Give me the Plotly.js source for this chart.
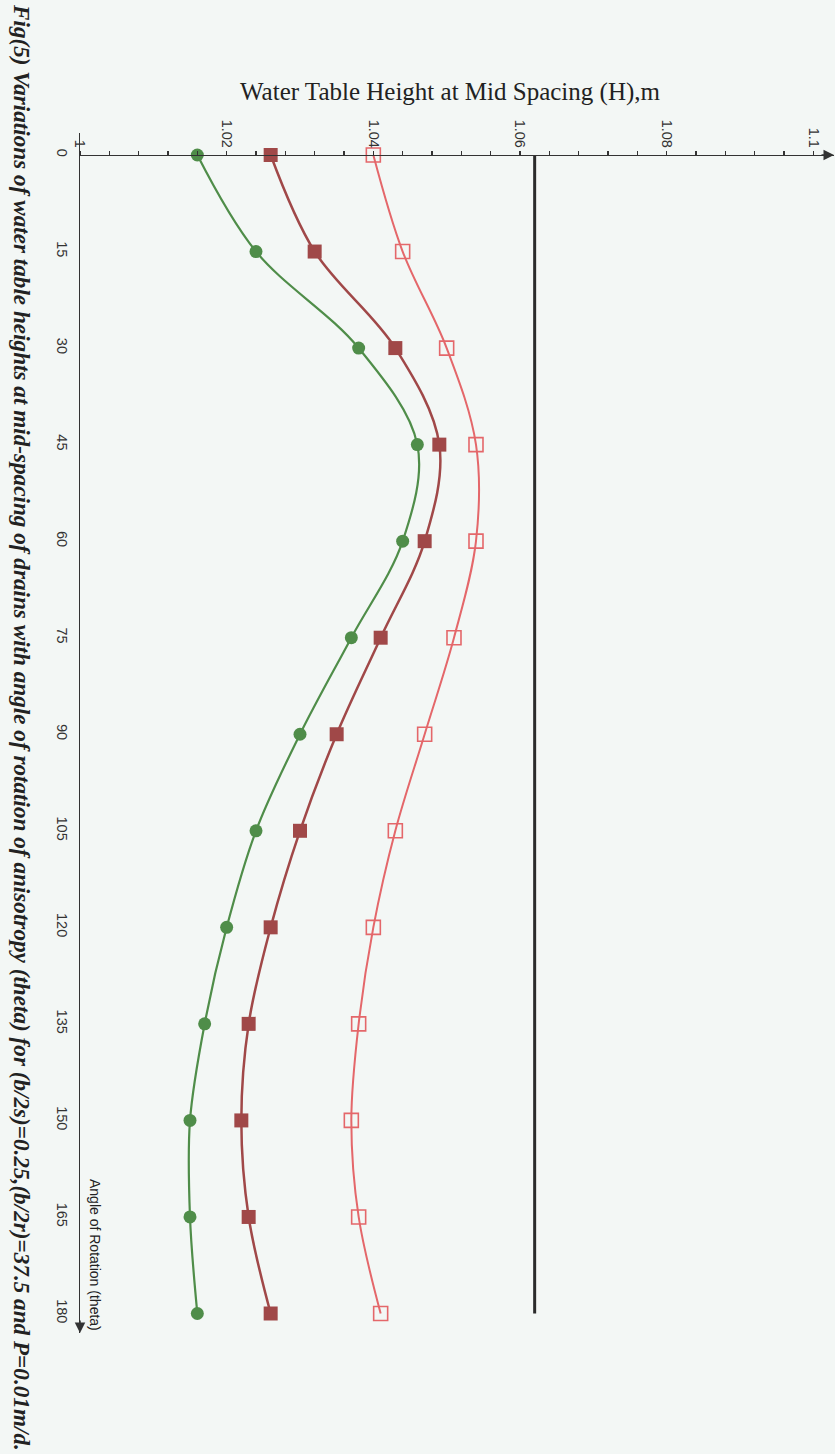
<!DOCTYPE html>
<html>
<head>
<meta charset="utf-8">
<script src="https://cdn.plot.ly/plotly-3.0.1.min.js"></script>
<style>
  html, body { margin: 0; padding: 0; background: #f3f7f5; }
  #chart { width: 835px; height: 1454px; }
</style>
</head>
<body>
<div id="chart"></div>
<script>
// Angle of rotation of anisotropy (theta), degrees
const theta = [0, 15, 30, 45, 60, 75, 90, 105, 120, 135, 150, 165, 180];
// Water table height at mid spacing H (m) for three cases
const hGreen   = [1.016, 1.024, 1.038, 1.046, 1.044, 1.037, 1.030, 1.024, 1.020, 1.017, 1.015, 1.015, 1.016];
const hDarkRed = [1.026, 1.032, 1.043, 1.049, 1.047, 1.041, 1.035, 1.030, 1.026, 1.023, 1.022, 1.023, 1.026];
const hOpenRed = [1.040, 1.044, 1.050, 1.054, 1.054, 1.051, 1.047, 1.043, 1.040, 1.038, 1.037, 1.038, 1.041];
// Reference (vertical black) line
const refH = [1.062, 1.062];
const refTheta = [0, 180];
// Tick labels
const hTickVals = [1, 1.02, 1.04, 1.06, 1.08, 1.1];
const hTickText = ['1', '1.02', '1.04', '1.06', '1.08', '1.1'];
const thetaTickVals = [0, 15, 30, 45, 60, 75, 90, 105, 120, 135, 150, 165, 180];
const thetaTickText = ['0', '15', '30', '45', '60', '75', '90', '105', '120', '135', '150', '165', '180'];

const xRange = [1.0, 1.10282];
const yRange = [183.03, -3.418];
const axisPos = (yRange[0] - 0) / (yRange[0] - yRange[1]);

const tickFont = { family: 'Liberation Sans, Arial, sans-serif', size: 14.5, color: '#333333' };

const traces = [
  { x: refH, y: refTheta, type: 'scatter', mode: 'lines',
    line: { color: '#2b2b2b', width: 3 }, hoverinfo: 'skip', showlegend: false },
  { x: hOpenRed, y: theta, type: 'scatter', mode: 'lines+markers',
    line: { color: '#e4676a', width: 2, shape: 'spline', smoothing: 1 },
    marker: { symbol: 'square-open', size: 14, color: '#e4676a', line: { width: 1.6, color: '#e4676a' } },
    showlegend: false },
  { x: hDarkRed, y: theta, type: 'scatter', mode: 'lines+markers',
    line: { color: '#a04848', width: 2.5, shape: 'spline', smoothing: 1 },
    marker: { symbol: 'square', size: 14, color: '#a04848' },
    showlegend: false },
  { x: hGreen, y: theta, type: 'scatter', mode: 'lines+markers',
    line: { color: '#4f8d49', width: 2.2, shape: 'spline', smoothing: 1 },
    marker: { symbol: 'circle', size: 13, color: '#4f8d49' },
    showlegend: false }
];

const layout = {
  width: 835, height: 1454,
  margin: { l: 80, r: 1, t: 133, b: 121 },
  paper_bgcolor: '#f3f7f5', plot_bgcolor: '#f3f7f5',
  showlegend: false,
  xaxis: {
    range: xRange, anchor: 'free', position: axisPos, side: 'top',
    showline: true, linecolor: '#333333', linewidth: 1.5,
    showgrid: false, zeroline: false,
    tickmode: 'array', tickvals: hTickVals, ticktext: hTickText,
    ticks: 'outside', ticklen: 4, tickwidth: 1.2, tickcolor: '#333333',
    tickangle: 90, tickfont: tickFont, ticklabelstandoff: -2,
    minor: { tick0: 1, dtick: 0.004, ticks: 'outside', ticklen: 4, tickwidth: 1.2, tickcolor: '#333333', showgrid: false }
  },
  xaxis2: {
    range: xRange, overlaying: 'x', anchor: 'free', position: axisPos, side: 'top',
    showline: false, showgrid: false, zeroline: false, showticklabels: false,
    tick0: 1, dtick: 0.004, ticks: 'inside', ticklen: 4, tickwidth: 1.2, tickcolor: '#333333'
  },
  yaxis: {
    range: yRange, showline: true, linecolor: '#333333', linewidth: 1.5,
    showgrid: false, zeroline: false,
    tickmode: 'array', tickvals: thetaTickVals, ticktext: thetaTickText,
    ticks: '', tickangle: 90, tickfont: tickFont, ticklabelstandoff: 4
  },
  annotations: [
    { xref: 'paper', yref: 'paper', x: 0.492, y: 1.0342, text: 'Water Table Height at Mid Spacing (H),m',
      showarrow: false, xanchor: 'center', yanchor: 'middle',
      font: { family: 'Liberation Serif, Times New Roman, serif', size: 25, color: '#222222' } },
    { xref: 'x', yref: 'y', x: xRange[1], y: 0, ax: -14, ay: 0, text: '',
      showarrow: true, arrowhead: 2, arrowsize: 1.4, arrowwidth: 1.5, arrowcolor: '#333333' },
    { xref: 'x', yref: 'paper', x: xRange[0], y: 0, ax: 0, ay: -14, text: '',
      showarrow: true, arrowhead: 2, arrowsize: 1.4, arrowwidth: 1.5, arrowcolor: '#333333' },
    { xref: 'paper', yref: 'paper', x: 0.0199, y: 0.065, text: 'Angle of Rotation (theta)',
      showarrow: false, textangle: 90, xanchor: 'center', yanchor: 'middle',
      font: { family: 'Liberation Sans, Arial, sans-serif', size: 14, color: '#222222' } },
    { xref: 'paper', yref: 'paper', x: -0.0769, y: 0.505,
      text: '<b><i>Fig(5) Variations of water table heights at mid-spacing of drains with angle of rotation of anisotropy (theta) for (b/2s)=0.25,(b/2r)=37.5 and P=0.01m/d.</i></b>',
      showarrow: false, textangle: 90, xanchor: 'center', yanchor: 'middle',
      font: { family: 'Liberation Serif, Times New Roman, serif', size: 23.2, color: '#222222' } }
  ]
};

Plotly.newPlot('chart', traces, layout, { displayModeBar: false, staticPlot: true });
</script>
</body>
</html>
